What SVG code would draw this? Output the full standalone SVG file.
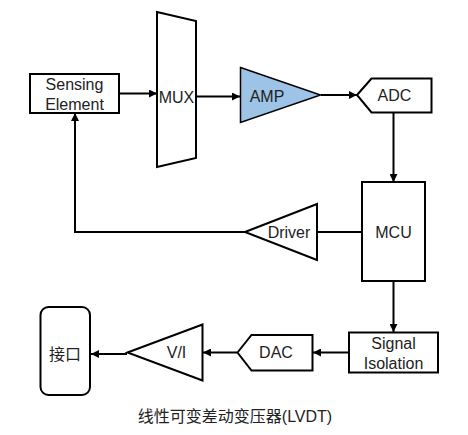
<svg xmlns="http://www.w3.org/2000/svg" width="468" height="435" viewBox="0 0 468 435">
<defs>
<marker id="ah" viewBox="0 0 8 8" refX="8" refY="4" markerWidth="8" markerHeight="8" markerUnits="userSpaceOnUse" orient="auto">
<path d="M0,0 L8,4 L0,8 Z" fill="#000"/>
</marker>
<style>
.s{fill:#fff;stroke:#000;stroke-width:2}
.b{fill:#9DC3E6;stroke:#000;stroke-width:1.5}
.t{font-family:"Liberation Sans","Noto Sans CJK SC",sans-serif;font-size:16px;fill:#222;text-anchor:middle;dominant-baseline:central}
.c{fill:none;stroke:#000;stroke-width:2}
</style>
</defs>
<rect width="468" height="435" fill="#fff"/>
<g id="connectors">
<line class="c" x1="119" y1="93.5" x2="157" y2="93.5" marker-end="url(#ah)"/>
<line class="c" x1="196" y1="96.5" x2="240" y2="96.5" marker-end="url(#ah)"/>
<line class="c" x1="321" y1="95" x2="357" y2="95" marker-end="url(#ah)"/>
<line class="c" x1="393.5" y1="112" x2="393.5" y2="182" marker-end="url(#ah)"/>
<line class="c" x1="362" y1="232" x2="317" y2="232"/>
<polyline class="c" points="245,232 75,232 75,113" marker-end="url(#ah)"/>
<line class="c" x1="393.5" y1="281" x2="393.5" y2="332" marker-end="url(#ah)"/>
<line class="c" x1="349" y1="352.5" x2="313" y2="352.5" marker-end="url(#ah)"/>
<line class="c" x1="237" y1="352.5" x2="203" y2="352.5" marker-end="url(#ah)"/>
<line class="c" x1="127" y1="354" x2="91" y2="354" marker-end="url(#ah)"/>
</g>
<g id="sensing">
<rect class="s" x="30" y="74" width="89" height="39"/>
<text class="t" x="74.5" y="84">Sensing</text>
<text class="t" x="74.5" y="104">Element</text>
</g>
<g id="mux">
<polygon class="s" points="157,12 196,21 196,158 157,167"/>
<text class="t" x="176.5" y="97">MUX</text>
</g>
<g id="amp">
<polygon class="b" points="240.5,67.5 320.5,95 240.5,122.5"/>
<text class="t" x="267" y="96">AMP</text>
</g>
<g id="adc">
<polygon class="s" points="357,95 371.5,78.5 431.5,78.5 431.5,112.5 371.5,112.5"/>
<text class="t" x="394.5" y="95.5">ADC</text>
</g>
<g id="mcu">
<rect class="s" x="362" y="182" width="63" height="99"/>
<text class="t" x="393.5" y="232">MCU</text>
</g>
<g id="driver">
<polygon class="s" points="245,232 317,204 317,260"/>
<text class="t" x="289" y="232">Driver</text>
</g>
<g id="isolation">
<rect class="s" x="349" y="332.5" width="89" height="40"/>
<text class="t" x="393.5" y="343">Signal</text>
<text class="t" x="393.5" y="363">Isolation</text>
</g>
<g id="dac">
<polygon class="s" points="237.5,352.5 251.5,335 312.5,335 312.5,370.5 251.5,370.5"/>
<text class="t" x="276" y="352.5">DAC</text>
</g>
<g id="vi">
<polygon class="s" points="127.5,352.5 202.5,324.5 202.5,380.5"/>
<text class="t" x="176.5" y="352.5">V/I</text>
</g>
<g id="port">
<rect class="s" x="40.5" y="307" width="49.5" height="88" rx="8"/>
<text class="t" x="65" y="354">接口</text>
</g>
<text class="t" x="235" y="416.5">线性可变差动变压器(LVDT)</text>
</svg>
